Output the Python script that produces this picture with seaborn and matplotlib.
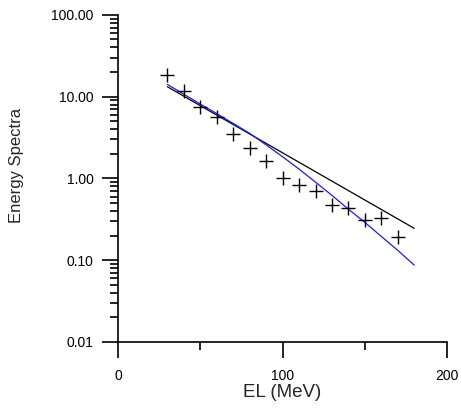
import numpy as np
import pandas as pd
import matplotlib
matplotlib.use("Agg")
import matplotlib.pyplot as plt
import seaborn as sns
from matplotlib.ticker import FixedLocator, LogLocator, NullFormatter, FuncFormatter

# Data
el_points = [30, 40, 50, 60, 70, 80, 90, 100, 110, 120, 130, 140, 150, 160, 170]
spectra_points = [18.5, 11.8, 7.5, 5.6, 3.45, 2.37, 1.63, 1.0, 0.82, 0.70, 0.47, 0.43, 0.31, 0.325, 0.19]

black_x = [30, 180]
black_y = [13.2, 0.245]

blue_x = [30, 40, 50, 60, 70, 80, 90, 100, 110, 120, 130, 140, 150, 160, 170, 180]
blue_y = [14.1, 10.7, 8.1, 6.2, 4.7, 3.55, 2.57, 1.84, 1.30, 0.90, 0.62, 0.42, 0.29, 0.195, 0.132, 0.087]

x_ticks = [0, 100, 200]
y_ticks = [0.01, 0.1, 1, 10, 100]

sns.set_style("ticks")
plt.rcParams['font.family'] = ['Liberation Sans', 'DejaVu Sans']

fig = plt.figure(figsize=(4.61, 4.12), dpi=100)
ax = fig.add_axes([0.256, 0.170, 0.714, 0.794])

pts = pd.DataFrame({"EL": el_points, "S": spectra_points})
blk = pd.DataFrame({"EL": black_x, "S": black_y})
blu = pd.DataFrame({"EL": blue_x, "S": blue_y})

sns.lineplot(data=blk, x="EL", y="S", ax=ax, color="black", linewidth=0.9)
sns.lineplot(data=blu, x="EL", y="S", ax=ax, color="#1a1aff", linewidth=0.9)
sns.scatterplot(data=pts, x="EL", y="S", ax=ax, marker="+", s=110, color="black",
                linewidth=1.0, zorder=5)

ax.set_yscale("log")
ax.set_xlim(0, 200)
ax.set_ylim(0.01, 100)

ax.xaxis.set_major_locator(FixedLocator(x_ticks))
ax.xaxis.set_minor_locator(FixedLocator([50, 150]))
ax.yaxis.set_major_locator(FixedLocator(y_ticks))
ax.yaxis.set_minor_locator(LogLocator(base=10, subs=np.arange(2, 10)))
ax.yaxis.set_minor_formatter(NullFormatter())
ax.yaxis.set_major_formatter(FuncFormatter(lambda v, p: f"{v:.2f}"))
ax.xaxis.set_major_formatter(FuncFormatter(lambda v, p: f"{v:.0f}"))

for side in ["top", "right"]:
    ax.spines[side].set_visible(False)
for side in ["left", "bottom"]:
    ax.spines[side].set_linewidth(1.2)
    ax.spines[side].set_color("black")

ax.tick_params(axis="both", which="major", direction="out", length=11.5, width=1.2,
               colors="black", labelsize=10, pad=6)
ax.tick_params(axis="both", which="minor", direction="out", length=5.8, width=1.2,
               colors="black")
ax.tick_params(axis="x", which="major", pad=8)

ax.set_xlabel("EL (MeV)", fontsize=13.5, labelpad=1)
ax.set_ylabel("Energy Spectra", fontsize=12)
ax.yaxis.set_label_coords(-0.285, 0.54)

fig.savefig("out.png", dpi=100)
